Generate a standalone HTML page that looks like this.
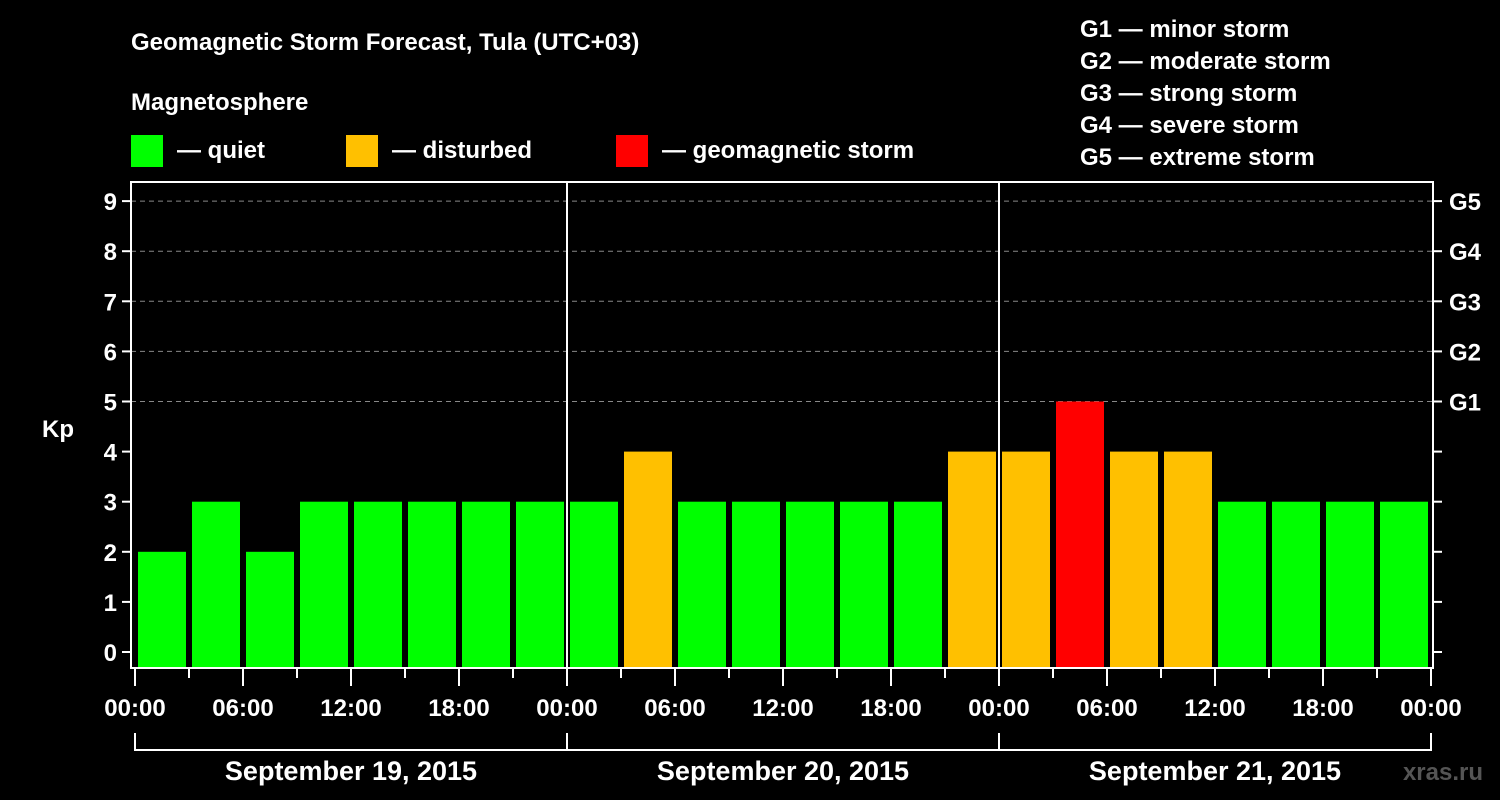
<!DOCTYPE html>
<html><head><meta charset="utf-8"><style>
body{margin:0;background:#000;}
svg{display:block;font-family:"Liberation Sans",Arial,sans-serif;font-weight:bold;fill:#fff;}
</style></head><body>
<svg id="c" width="1500" height="800" viewBox="0 0 1500 800">
<text x="131" y="50" font-size="24">Geomagnetic Storm Forecast, Tula (UTC+03)</text>
<text x="131" y="110" font-size="24">Magnetosphere</text>
<g>
<rect x="131" y="135" width="32" height="32" fill="#00ff00"/>
<text x="177" y="158" font-size="24">— quiet</text>
<rect x="346" y="135" width="32" height="32" fill="#ffc000"/>
<text x="392" y="158" font-size="24">— disturbed</text>
<rect x="616" y="135" width="32" height="32" fill="#ff0000"/>
<text x="662" y="158" font-size="24">— geomagnetic storm</text>
</g>
<g font-size="24">
<text x="1080" y="37">G1 — minor storm</text>
<text x="1080" y="69">G2 — moderate storm</text>
<text x="1080" y="101">G3 — strong storm</text>
<text x="1080" y="133">G4 — severe storm</text>
<text x="1080" y="165">G5 — extreme storm</text>
</g>
<text x="42" y="437" font-size="24">Kp</text>
<text x="1483" y="780" font-size="24" text-anchor="end" fill="#555" style="fill:#555">xras.ru</text>
<g id="plot"></g>
</svg>
<script>
const kpValues=[2,3,2,3,3,3,3,3,3,4,3,3,3,3,3,4,4,5,4,4,3,3,3,3];
const dayLabels=["September 19, 2015","September 20, 2015","September 21, 2015"];
const hourLabels=["00:00","06:00","12:00","18:00"];
const yTicks=[0,1,2,3,4,5,6,7,8,9];
const gLabels=["G1","G2","G3","G4","G5"];
const NS="http://www.w3.org/2000/svg";
const g=document.getElementById('plot');
const L=131,R=1433,T=182,B=668,X0=135,dayW=432;
const y=v=>652-v*50.1;
const x=h=>X0+h*dayW/24;
function mk(t,a,p){const e=document.createElementNS(NS,t);for(const k in a)e.setAttribute(k,a[k]);(p||g).appendChild(e);return e;}
// grid
yTicks.forEach(v=>{
 if(v>=5){const l=mk('line',{x1:L,x2:R,y1:y(v),y2:y(v),stroke:'#888','stroke-dasharray':'5,4','stroke-width':1});
 
 }
 const t=mk('line',{x1:L-9,x2:L,y1:y(v),y2:y(v),stroke:'#fff','stroke-width':2});
 
 
 const t2=mk('line',{x1:R,x2:R+9,y1:y(v),y2:y(v),stroke:'#fff','stroke-width':2});
 
 
 const tx=mk('text',{x:L-14,y:y(v)+9,'font-size':24,'text-anchor':'end'});tx.textContent=v;
 
 
});
gLabels.forEach((s,i)=>{const tx=mk('text',{x:R+16,y:y(5+i)+9,'font-size':24});tx.textContent=s;
 
 });
// bars
kpValues.forEach((v,i)=>{
 const c=v>=5?'#ff0000':(v>=4?'#ffc000':'#00ff00');
 const r=mk('rect',{x:x(i*3)+3,y:y(v),width:48,height:B-1-y(v),fill:c});
 
 
});
// frame & dividers
const f=mk('rect',{x:L,y:T,width:R-L,height:B-T,fill:'none',stroke:'#fff','stroke-width':2});


for(let d=1;d<dayLabels.length;d++){const l=mk('line',{x1:x(d*24),x2:x(d*24),y1:T,y2:B,stroke:'#fff','stroke-width':2});
 
 }
// x ticks
for(let h=0;h<=72;h+=3){const major=h%6==0;
 const l=mk('line',{x1:x(h),x2:x(h),y1:B,y2:B+(major?18:10),stroke:'#fff','stroke-width':2});
 
 
 if(major){const tx=mk('text',{x:x(h),y:716,'font-size':24,'text-anchor':'middle'});tx.textContent=hourLabels[(h%24)/6];
 
 }}
dayLabels.forEach((s,d)=>{
 const p=mk('path',{d:`M${x(d*24)} 733V750H${x(d*24+24)}${d==dayLabels.length-1?'V733':''}`,fill:'none',stroke:'#fff','stroke-width':2});
 
 
 const tx=mk('text',{x:x(d*24+12),y:780,'font-size':27,'text-anchor':'middle'});tx.textContent=s;
 
 
});
</script>
</body></html>
